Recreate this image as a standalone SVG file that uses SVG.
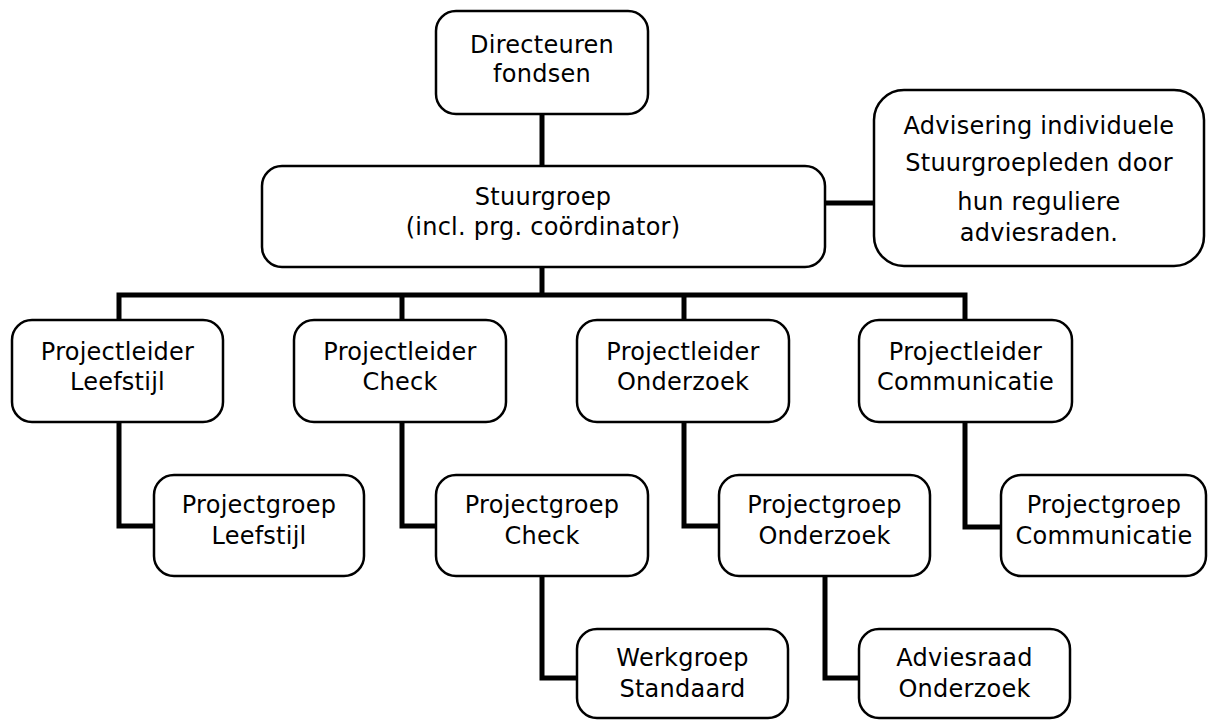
<svg xmlns="http://www.w3.org/2000/svg" width="1208" height="728" viewBox="0 0 1208 728">
<style>
.box{fill:#fff;stroke:#000;stroke-width:2.5}
.t{font-family:"DejaVu Sans",sans-serif;font-size:24px;letter-spacing:0.25px;fill:#000;text-anchor:middle}
.c{fill:none;stroke:#000;stroke-width:5;stroke-linejoin:miter;stroke-linecap:butt}
</style>
<rect width="1208" height="728" fill="#fff"/>
<g id="connectors">
<path class="c" d="M542 114 V166"/>
<path class="c" d="M825 203 H874"/>
<path class="c" d="M542 267 V295"/>
<path class="c" d="M119 320 V295 H965 V320"/>
<path class="c" d="M402 295 V320"/>
<path class="c" d="M684 295 V320"/>
<path class="c" d="M119 422 V526 H154"/>
<path class="c" d="M402 422 V526 H436"/>
<path class="c" d="M684 422 V526 H719"/>
<path class="c" d="M965 422 V527 H1001"/>
<path class="c" d="M542 576 V678 H577"/>
<path class="c" d="M825 576 V678 H859"/>
</g>
<g id="n-directeuren">
<rect class="box" x="436" y="11" width="212" height="103" rx="20"/>
<text class="t" x="542" y="53">Directeuren</text>
<text class="t" x="542" y="82">fondsen</text>
</g>
<g id="n-stuurgroep">
<rect class="box" x="262" y="166" width="563" height="101" rx="20"/>
<text class="t" x="543" y="205">Stuurgroep</text>
<text class="t" x="543" y="235">(incl. prg. coördinator)</text>
</g>
<g id="n-advisering">
<rect class="box" x="874" y="90" width="330" height="176" rx="30"/>
<text class="t" x="1039" y="134">Advisering individuele</text>
<text class="t" x="1039" y="171">Stuurgroepleden door</text>
<text class="t" x="1039" y="210">hun reguliere</text>
<text class="t" x="1039" y="241">adviesraden.</text>
</g>
<g id="n-pl-leefstijl">
<rect class="box" x="12" y="320" width="211" height="102" rx="20"/>
<text class="t" x="117.5" y="360">Projectleider</text>
<text class="t" x="117.5" y="390">Leefstijl</text>
</g>
<g id="n-pl-check">
<rect class="box" x="294" y="320" width="212" height="102" rx="20"/>
<text class="t" x="400" y="360">Projectleider</text>
<text class="t" x="400" y="390">Check</text>
</g>
<g id="n-pl-onderzoek">
<rect class="box" x="577" y="320" width="212" height="102" rx="20"/>
<text class="t" x="683" y="360">Projectleider</text>
<text class="t" x="683" y="390">Onderzoek</text>
</g>
<g id="n-pl-communicatie">
<rect class="box" x="859" y="320" width="213" height="102" rx="20"/>
<text class="t" x="965.5" y="360">Projectleider</text>
<text class="t" x="965.5" y="390">Communicatie</text>
</g>
<g id="n-pg-leefstijl">
<rect class="box" x="154" y="475" width="210" height="101" rx="20"/>
<text class="t" x="259" y="513">Projectgroep</text>
<text class="t" x="259" y="544">Leefstijl</text>
</g>
<g id="n-pg-check">
<rect class="box" x="436" y="475" width="212" height="101" rx="20"/>
<text class="t" x="542" y="513">Projectgroep</text>
<text class="t" x="542" y="544">Check</text>
</g>
<g id="n-pg-onderzoek">
<rect class="box" x="719" y="475" width="211" height="101" rx="20"/>
<text class="t" x="824.5" y="513">Projectgroep</text>
<text class="t" x="824.5" y="544">Onderzoek</text>
</g>
<g id="n-pg-communicatie">
<rect class="box" x="1001" y="475" width="205" height="101" rx="20"/>
<text class="t" x="1104" y="513">Projectgroep</text>
<text class="t" x="1104" y="544">Communicatie</text>
</g>
<g id="n-werkgroep">
<rect class="box" x="577" y="629" width="211" height="89" rx="20"/>
<text class="t" x="682.5" y="666">Werkgroep</text>
<text class="t" x="682.5" y="697">Standaard</text>
</g>
<g id="n-adviesraad">
<rect class="box" x="859" y="629" width="211" height="89" rx="20"/>
<text class="t" x="964.5" y="666">Adviesraad</text>
<text class="t" x="964.5" y="697">Onderzoek</text>
</g>
</svg>
